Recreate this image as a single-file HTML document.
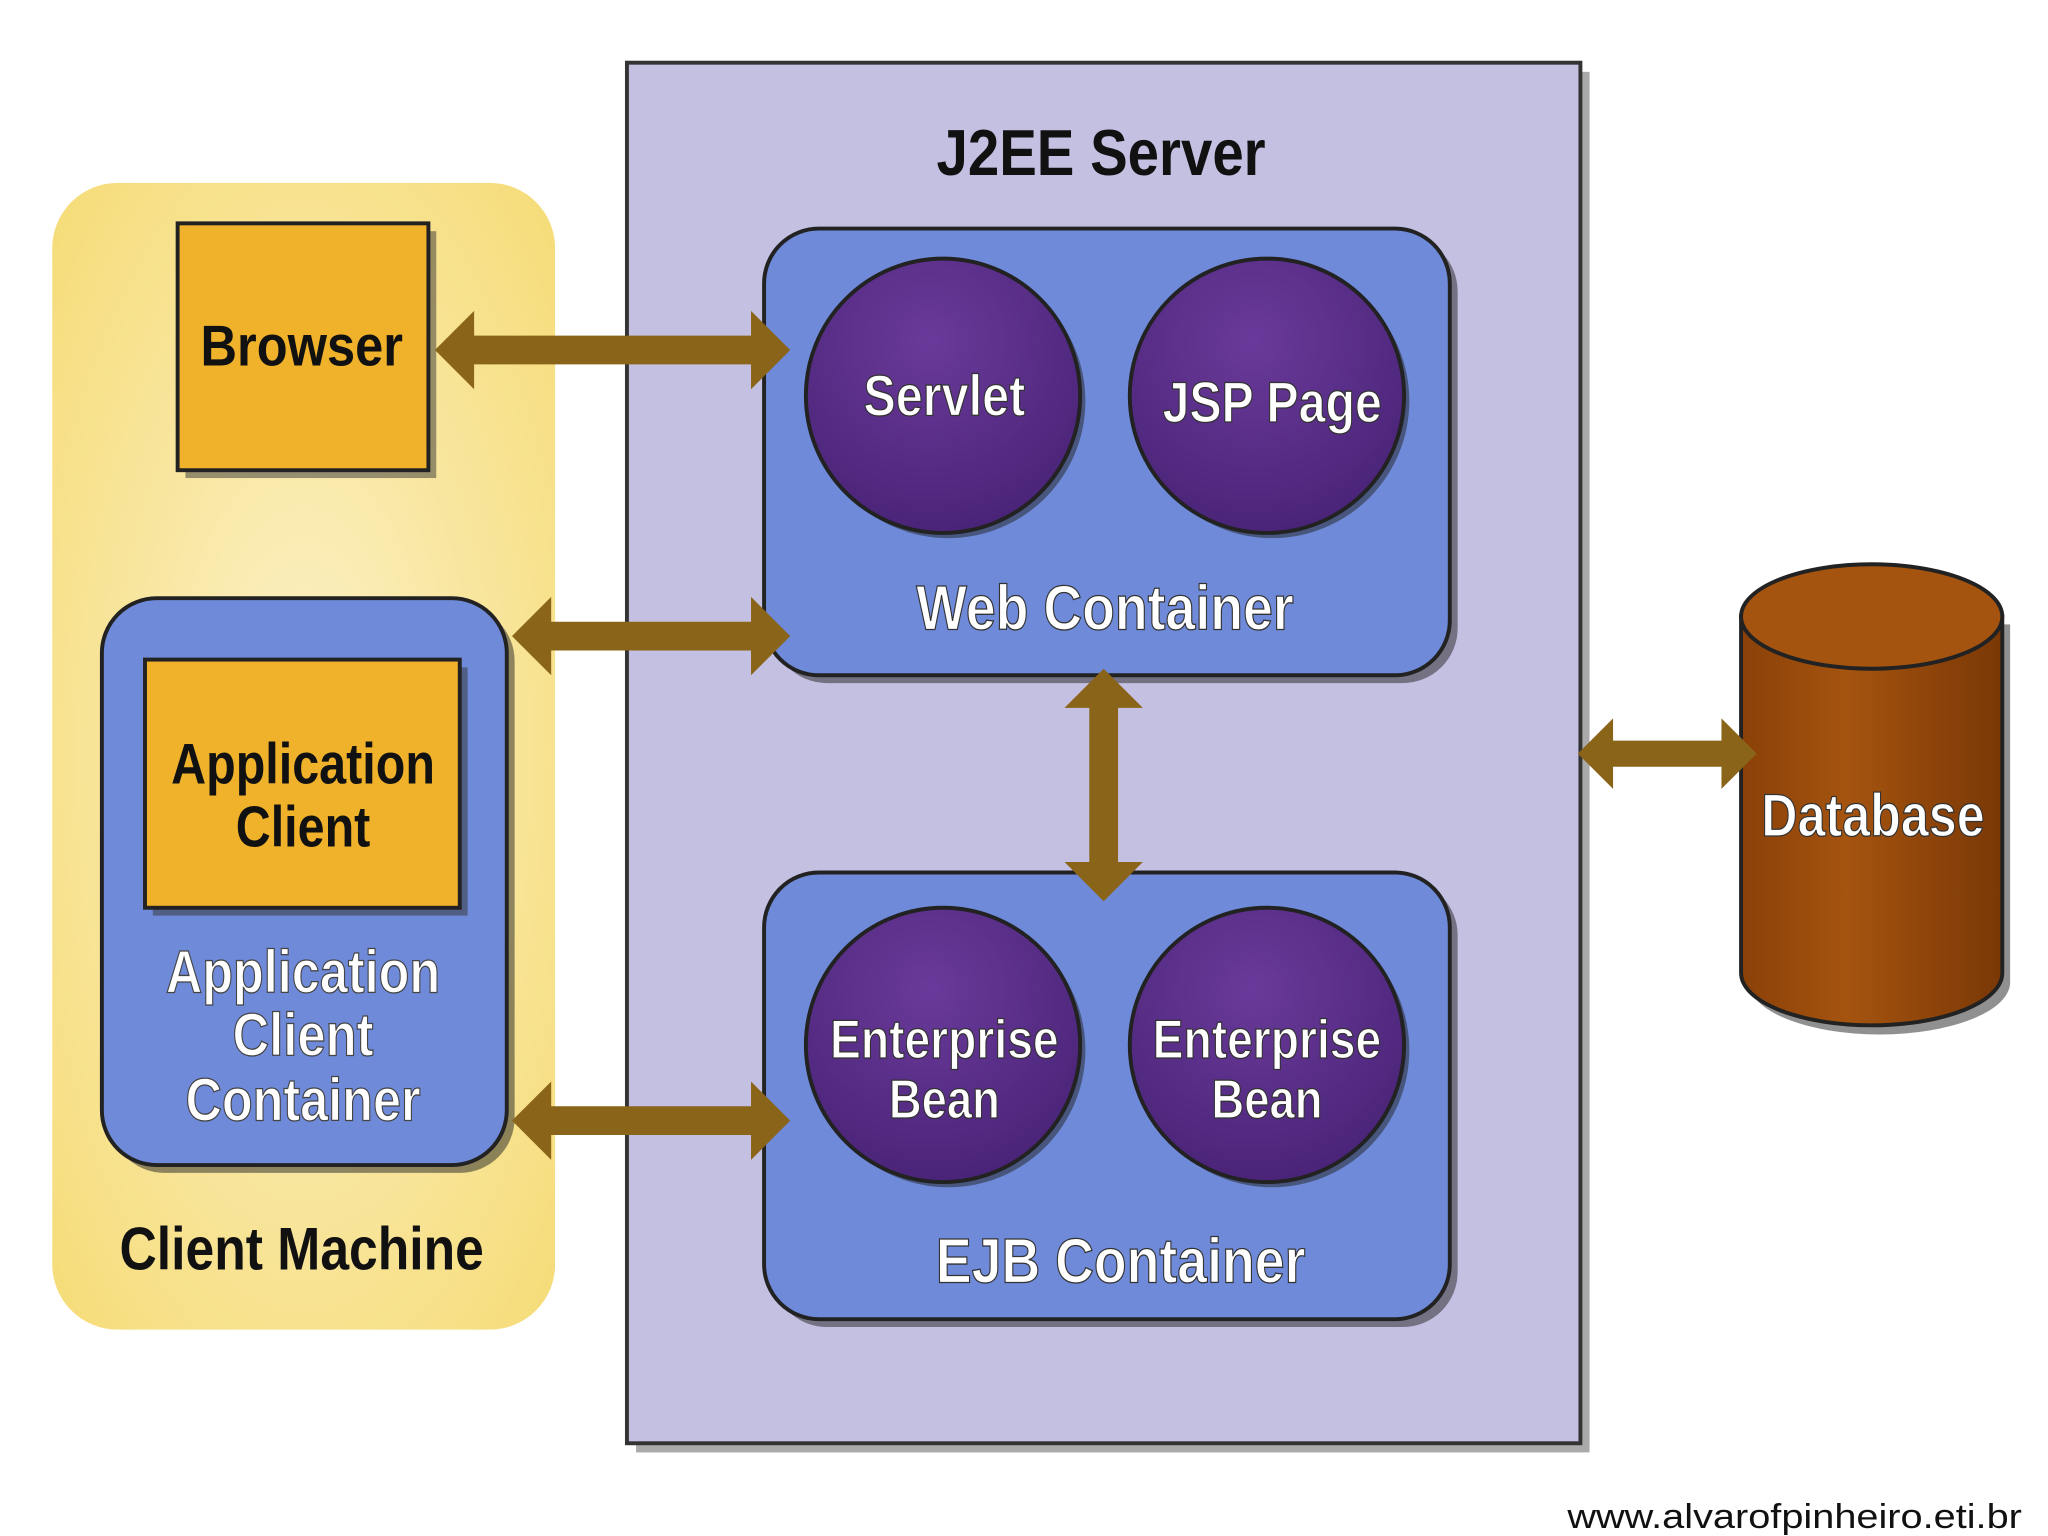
<!DOCTYPE html>
<html><head><meta charset="utf-8"><style>
html,body{margin:0;padding:0;background:#fff;width:2048px;height:1536px;overflow:hidden}
svg{display:block}
.t{font-family:"Liberation Sans",sans-serif;font-weight:bold;text-anchor:middle}
</style></head><body>
<svg width="2048" height="1536" viewBox="0 0 1568 1176" xmlns="http://www.w3.org/2000/svg">
<defs>
<radialGradient id="cm" cx="0.5" cy="0.5" r="0.7"><stop offset="0" stop-color="#fbf1c8"/><stop offset="1" stop-color="#f6dc78"/></radialGradient>
<radialGradient id="pc" cx="0.45" cy="0.3" r="0.7"><stop offset="0" stop-color="#6a3a9a"/><stop offset="1" stop-color="#4a2478"/></radialGradient>
<linearGradient id="db" x1="0" x2="1"><stop offset="0" stop-color="#8a4008"/><stop offset="0.4" stop-color="#a5540f"/><stop offset="1" stop-color="#7a3806"/></linearGradient>
</defs>
<rect x="40" y="140" width="385" height="878" rx="50" fill="url(#cm)"/>
<rect x="487" y="55" width="730" height="1057" fill="#555" opacity="0.5"/>
<rect x="480" y="48" width="730" height="1057" fill="#c4c0e2" stroke="#333" stroke-width="3"/>
<g class="t">
<text x="843" y="134" font-size="50" fill="#111" textLength="252" lengthAdjust="spacingAndGlyphs">J2EE Server</text>
</g>
<rect x="142" y="177" width="192" height="189" fill="#333" opacity="0.5"/>
<rect x="136" y="171" width="192" height="189" fill="#f0b22a" stroke="#222" stroke-width="3"/>
<rect x="84" y="464" width="310" height="434" rx="42" fill="#222" opacity="0.5"/>
<rect x="78" y="458" width="310" height="434" rx="42" fill="#6e8ad8" stroke="#222" stroke-width="3"/>
<rect x="117" y="511" width="241" height="190" fill="#333" opacity="0.5"/>
<rect x="111" y="505" width="241" height="190" fill="#f0b22a" stroke="#222" stroke-width="3"/>
<g class="t" fill="#111">
<text x="231" y="280" font-size="44" textLength="155" lengthAdjust="spacingAndGlyphs">Browser</text>
<text x="232" y="600" font-size="44" textLength="202" lengthAdjust="spacingAndGlyphs">Application</text>
<text x="232" y="648" font-size="44" textLength="103" lengthAdjust="spacingAndGlyphs">Client</text>
<text x="231" y="972" font-size="46" textLength="279" lengthAdjust="spacingAndGlyphs">Client Machine</text>
</g>
<g class="t" fill="#fff" stroke="#444" stroke-width="1" font-size="46">
<text x="232" y="760" textLength="210" lengthAdjust="spacingAndGlyphs">Application</text>
<text x="232" y="808" textLength="108" lengthAdjust="spacingAndGlyphs">Client</text>
<text x="232" y="858" textLength="180" lengthAdjust="spacingAndGlyphs">Container</text>
</g>
<rect x="591" y="181" width="525" height="342" rx="42" fill="#222" opacity="0.5"/>
<rect x="585" y="175" width="525" height="342" rx="42" fill="#6e8ad8" stroke="#222" stroke-width="3"/>
<circle cx="726" cy="307" r="105" fill="#222" opacity="0.5"/>
<circle cx="722" cy="303" r="105" fill="url(#pc)" stroke="#222" stroke-width="3"/>
<circle cx="974" cy="307" r="105" fill="#222" opacity="0.5"/>
<circle cx="970" cy="303" r="105" fill="url(#pc)" stroke="#222" stroke-width="3"/>
<rect x="591" y="674" width="525" height="342" rx="42" fill="#222" opacity="0.5"/>
<rect x="585" y="668" width="525" height="342" rx="42" fill="#6e8ad8" stroke="#222" stroke-width="3"/>
<circle cx="726" cy="804" r="105" fill="#222" opacity="0.5"/>
<circle cx="722" cy="800" r="105" fill="url(#pc)" stroke="#222" stroke-width="3"/>
<circle cx="974" cy="804" r="105" fill="#222" opacity="0.5"/>
<circle cx="970" cy="800" r="105" fill="url(#pc)" stroke="#222" stroke-width="3"/>
<g class="t" fill="#fff" stroke="#333" stroke-width="1" font-size="44">
<text x="723" y="318" textLength="124" lengthAdjust="spacingAndGlyphs">Servlet</text>
<text x="974" y="323" textLength="168" lengthAdjust="spacingAndGlyphs">JSP Page</text>
<text x="846" y="482" font-size="48" textLength="289" lengthAdjust="spacingAndGlyphs">Web Container</text>
<text x="723" y="810" font-size="42" textLength="175" lengthAdjust="spacingAndGlyphs">Enterprise</text>
<text x="723" y="856" font-size="42" textLength="85" lengthAdjust="spacingAndGlyphs">Bean</text>
<text x="970" y="810" font-size="42" textLength="175" lengthAdjust="spacingAndGlyphs">Enterprise</text>
<text x="970" y="856" font-size="42" textLength="85" lengthAdjust="spacingAndGlyphs">Bean</text>
<text x="858" y="982" font-size="48" textLength="283" lengthAdjust="spacingAndGlyphs">EJB Container</text>
</g>
<path d="M1339 478 V 752 A100 40 0 0 0 1539 752 V 478 Z" fill="#222" opacity="0.5"/>
<path d="M1333 472 V 745 A100 40 0 0 0 1533 745 V 472 Z" fill="url(#db)" stroke="#222" stroke-width="3"/>
<ellipse cx="1433" cy="472" rx="100" ry="40" fill="#a5540f" stroke="#222" stroke-width="3"/>
<text class="t" x="1434" y="640" font-size="46" fill="#fff" stroke="#333" stroke-width="1" textLength="171" lengthAdjust="spacingAndGlyphs">Database</text>
<g fill="#8a6418">
<path d="M333 268 L363 238 V257 H575 V238 L605 268 L575 298 V279 H363 V298 Z"/>
<path d="M392 487 L422 457 V476 H575 V457 L605 487 L575 517 V498 H422 V517 Z"/>
<path d="M392 858 L422 828 V847 H575 V828 L605 858 L575 888 V869 H422 V888 Z"/>
<path d="M845 512 L875 542 H856 V660 H875 L845 690 L815 660 H834 V542 H815 Z"/>
<path d="M1208 577 L1235 550 V567 H1318 V550 L1345 577 L1318 604 V587 H1235 V604 Z"/>
</g>
<text x="1548" y="1170" font-size="26" fill="#111" style="font-family:'Liberation Sans',sans-serif;font-weight:normal;text-anchor:end" textLength="348" lengthAdjust="spacingAndGlyphs">www.alvarofpinheiro.eti.br</text>
</svg>
</body></html>
